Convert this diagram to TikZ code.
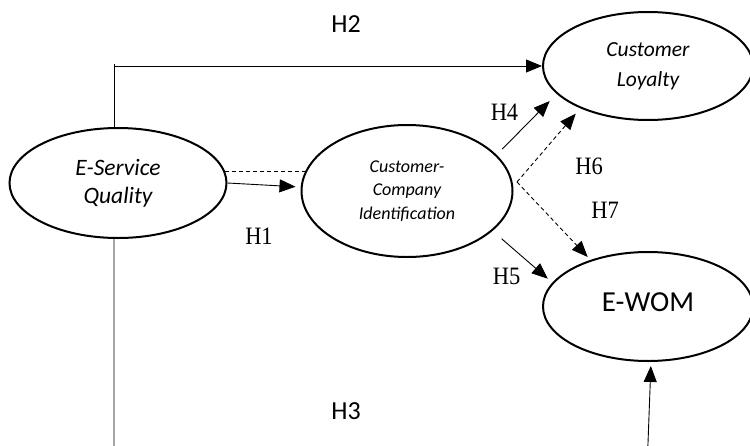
\documentclass[tikz,border=0pt]{standalone}
\usepackage{fontspec}
\setmainfont{Carlito}
\newfontfamily\serifH[FakeStretch=0.9]{Liberation Serif}
\usetikzlibrary{shapes.geometric,arrows.meta}
\begin{document}
\begin{tikzpicture}[x=1pt,y=-1pt,
  construct/.style={ellipse, draw, line width=2pt, inner sep=0pt, align=center},
  hlabS/.style={font=\fontsize{26}{30}\selectfont, inner sep=0pt},
  hlabT/.style={font=\serifH\fontsize{25}{28}\selectfont, inner sep=0pt},
  link/.style={line width=0.9pt},
  tipA/.style={-{Triangle[length=16pt,width=13pt]}},
  arr/.style={link, tipA},
  dlink/.style={link, dash pattern=on 4pt off 3pt}
]
\useasboundingbox (0,0) rectangle (750,445);

% constructs
\node[construct, minimum width=217pt, minimum height=110pt,
      font=\itshape\fontsize{23.5}{28}\selectfont] (esq) at (118,183) {E-Service\\Quality};
\node[construct, minimum width=211pt, minimum height=132pt,
      font=\itshape\fontsize{18}{23.5}\selectfont] (cci) at (407,191) {Customer-\\Company\\Identification};
\node[construct, minimum width=210pt, minimum height=108pt,
      font=\itshape\fontsize{21.5}{30}\selectfont] (cl) at (648,66) {Customer\\Loyalty};
\node[construct, minimum width=210pt, minimum height=109pt,
      font=\fontsize{29}{32}\selectfont] (ewom) at (648,306.5) {\raisebox{8pt}{E-WOM}};

% labels
\node[hlabS] (h2) at (346,24) {H2};
\node[hlabS] (h3) at (346,411.5) {H3};
\node[hlabT] (h1) at (259,236) {H1};
\node[hlabT] (h4) at (504.5,112.5) {H4};
\node[hlabT] (h6) at (589,166.5) {H6};
\node[hlabT] (h7) at (605,210) {H7};
\node[hlabT] (h5) at (506.5,276.5) {H5};

% H2 path
\coordinate (h2top) at (114,64);
\draw[link] ([xshift=-4pt]esq.north) -- (h2top);
\draw[arr] ([xshift=-4pt]esq.north |- cl.west) -- (cl.west);

% H3 path (runs below the picture edge)
\coordinate (h3a) at (114,470);
\coordinate (h3b) at (647,470);
\draw[arr, shorten >=4pt] ([xshift=-4pt]esq.south) -- (h3a) -- (h3b) -- ([xshift=3pt]ewom.south);

% E-Service -- CCI dashed link
\draw[dlink] (esq.6.5) -- (esq.6.5 -| cci.168.7);

% H1
\draw[arr, shorten >=5pt] (esq.east) -- ([yshift=4pt]cci.west);

% H4
\draw[arr, shorten <=8pt, shorten >=10pt] (cci.22) -- (cl.197);

% H6 / H7 mediated paths
\coordinate (vtx) at (517,182);
\draw[dlink, tipA, shorten >=7pt] (vtx) -- (cl.212);
\draw[dlink, tipA, shorten >=4pt] (vtx) -- (ewom.141);

% H5
\draw[arr, shorten <=12pt, shorten >=6pt] (cci.-25) -- (ewom.166);
\end{tikzpicture}
\end{document}
